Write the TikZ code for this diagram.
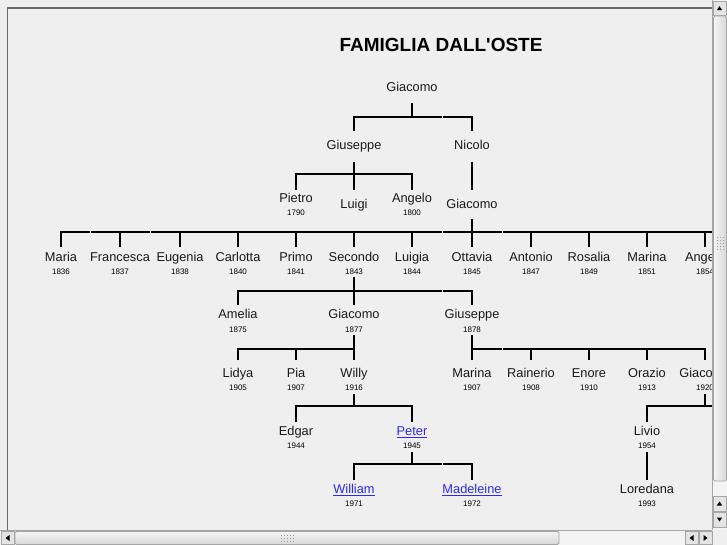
\documentclass[tikz,border=0pt]{standalone}
\usepackage{fontspec}
\setmainfont{Liberation Sans}
\newfontfamily\titlefont{Liberation Sans}[Ligatures=TeXOff]
\definecolor{bg}{HTML}{EFEFEF}
\definecolor{linkblue}{HTML}{2B2BE8}
\definecolor{framec}{HTML}{6A6A6A}
\definecolor{sbface}{HTML}{D8D8D8}
\definecolor{sbedge}{HTML}{A6A6A6}
\definecolor{sbtrack}{HTML}{F4F4F4}
\definecolor{sbbtn}{HTML}{E4E4E4}
\begin{document}
\begin{tikzpicture}[x=1pt,y=-1pt,
  nm/.style={font=\fontsize{12.8}{14}\selectfont, anchor=base, inner sep=0pt, text=black!90},
  yr/.style={font=\fontsize{8}{9}\selectfont, anchor=base, inner sep=0pt},
  lk/.style={nm, text=linkblue},
  ln/.style={line width=2pt, black, line join=miter},
  gapline/.style={draw=white!70!bg, line width=0.9pt},
  sbbox/.style={draw=sbedge, fill=sbbtn, line width=0.8pt},
  sbthumb/.style={draw=sbedge, line width=0.8pt, rounded corners=1.5pt},
  grip/.style={fill=black!40}]
\useasboundingbox[fill=bg] (0,0) rectangle (727,545);

\begin{scope}
\clip (8,9) rectangle (712,530);
\node[font=\titlefont\bfseries\fontsize{19}{22}\selectfont, anchor=base, inner sep=0pt] (title) at (441,52) {FAMIGLIA DALL'OSTE};

% level 0-2
\node[nm] (giacomoA) at (412,91.5) {Giacomo};
\node[nm] (giuseppeA) at (354,149.5) {Giuseppe};
\node[nm] (nicolo) at (472,149.5) {Nicolo};
\node[nm] (pietro) at (296,202.5) {Pietro};
\node[yr] (pietro-y) at (296,215) {1790};
\node[nm] (luigi) at (354,208.5) {Luigi};
\node[nm] (angeloA) at (412,202.5) {Angelo};
\node[yr] (angeloA-y) at (412,215) {1800};
\node[nm] (giacomoB) at (472,208.5) {Giacomo};

% level 3
\foreach \n/\x/\t/\yy in {maria/61/Maria/1836, francesca/120/Francesca/1837,
  eugenia/180/Eugenia/1838, carlotta/238/Carlotta/1840, primo/296/Primo/1841,
  secondo/354/Secondo/1843, luigia/412/Luigia/1844, ottavia/472/Ottavia/1845,
  antonio/531/Antonio/1847, rosalia/589/Rosalia/1849, marinaA/647/Marina/1851,
  angeloB/705/Angelo/1854}
 {\node[nm] (\n) at (\x,261.5) {\t};
  \node[yr] (\n-y) at (\x,274) {\yy};}

% level 4
\foreach \n/\x/\t/\yy in {amelia/238/Amelia/1875, giacomoC/354/Giacomo/1877,
  giuseppeB/472/Giuseppe/1878}
 {\node[nm] (\n) at (\x,318.5) {\t};
  \node[yr] (\n-y) at (\x,332) {\yy};}

% level 5
\foreach \n/\x/\t/\yy in {lidya/238/Lidya/1905, pia/296/Pia/1907, willy/354/Willy/1916,
  marinaB/472/Marina/1907, rainerio/531/Rainerio/1908, enore/589/Enore/1910,
  orazio/647/Orazio/1913, giacomoD/705/Giacomo/1920}
 {\node[nm] (\n) at (\x,377.5) {\t};
  \node[yr] (\n-y) at (\x,390) {\yy};}

% level 6
\node[nm] (edgar) at (296,435.5) {Edgar};
\node[yr] (edgar-y) at (296,448) {1944};
\node[lk] (peter) at (412,435.5) {\underline{Peter}};
\node[yr] (peter-y) at (412,448) {1945};
\node[nm] (livio) at (647,435.5) {Livio};
\node[yr] (livio-y) at (647,448) {1954};

% level 7
\node[lk] (william) at (354,493.5) {\underline{William}};
\node[yr] (william-y) at (354,506) {1971};
\node[lk] (madeleine) at (472,493.5) {\underline{Madeleine}};
\node[yr] (madeleine-y) at (472,506) {1972};
\node[nm] (loredana) at (647,493.5) {Loredana};
\node[yr] (loredana-y) at (647,506) {1993};

\coordinate (offR3) at (730,232);
\coordinate (offR6) at (730,406);

% connectors
\draw[ln] (giacomoA |- 0,103) -- (giacomoA |- 0,117);
\draw[ln] (giuseppeA |- 0,131) -- (giuseppeA |- 0,117) -- (nicolo |- 0,117) -- (nicolo |- 0,131);

\draw[ln] (giuseppeA |- 0,162) -- (luigi |- 0,190);
\draw[ln] (pietro |- 0,190) -- (pietro |- 0,174) -- (angeloA |- 0,174) -- (angeloA |- 0,190);
\draw[ln] (nicolo |- 0,162) -- (giacomoB |- 0,190);

\draw[ln] (giacomoB |- 0,219) -- (ottavia |- 0,247);
\draw[ln] (maria |- 0,247) -- (maria |- 0,232) -- (offR3);
\foreach \c in {francesca,eugenia,carlotta,primo,secondo,luigia,antonio,rosalia,marinaA,angeloB}
  \draw[ln] (\c |- 0,232) -- (\c |- 0,247);

\draw[ln] (secondo |- 0,277) -- (giacomoC |- 0,305);
\draw[ln] (amelia |- 0,305) -- (amelia |- 0,291) -- (giuseppeB |- 0,291) -- (giuseppeB |- 0,305);

\draw[ln] (giacomoC |- 0,335) -- (willy |- 0,360);
\draw[ln] (lidya |- 0,360) -- (lidya |- 0,349) -- (willy |- 0,349);
\draw[ln] (pia |- 0,349) -- (pia |- 0,360);

\draw[ln] (giuseppeB |- 0,335) -- (marinaB |- 0,360);
\draw[ln] (marinaB |- 0,349) -- (giacomoD |- 0,349) -- (giacomoD |- 0,360);
\foreach \c in {rainerio,enore,orazio}
  \draw[ln] (\c |- 0,349) -- (\c |- 0,360);

\draw[ln] (willy |- 0,394) -- (willy |- 0,406);
\draw[ln] (edgar |- 0,422) -- (edgar |- 0,406) -- (peter |- 0,406) -- (peter |- 0,422);

\draw[ln] (giacomoD |- 0,394) -- (giacomoD |- 0,406);
\draw[ln] (livio |- 0,422) -- (livio |- 0,406) -- (offR6);

\draw[ln] (peter |- 0,452) -- (peter |- 0,464);
\draw[ln] (william |- 0,480) -- (william |- 0,464) -- (madeleine |- 0,464) -- (madeleine |- 0,480);
\draw[ln] (livio |- 0,452) -- (loredana |- 0,480);

% small cell-boundary gaps in the horizontal lines
\foreach \gx/\gy in {442/117, 90/232, 150/232, 442/232, 502/232, 442/291, 502/349, 442/464}
  \draw[gapline] (\gx,\gy-1.2) -- (\gx,\gy+1.2);
\end{scope}

% window frame
\draw[framec, line width=1.2pt] (7.6,530) -- (7.6,8) -- (712,8);

% vertical scrollbar
\fill[sbtrack] (712,0) rectangle (727,530);
\draw[sbedge, line width=0.6pt] (712.3,0) -- (712.3,530);
\draw[sbbox] (713.5,1) rectangle (726.5,15);
\fill (716.8,10.2) -- (722.2,10.2) -- (719.5,6.2) -- cycle;
\draw[sbthumb, left color=white!92!gray, right color=sbface] (713.5,16) rectangle (726.5,481);
\foreach \gx in {716.5,719.5,722.5}
  \foreach \gy in {237,240,243,246,249}
    \fill[grip] (\gx,\gy) rectangle +(0.9,0.9);
\draw[sbbox] (713.5,496) rectangle (726.5,511);
\fill (716.8,505.5) -- (722.2,505.5) -- (719.5,501.5) -- cycle;
\draw[sbbox] (713.5,512) rectangle (726.5,527);
\fill (716.8,517.5) -- (722.2,517.5) -- (719.5,521.5) -- cycle;

% horizontal scrollbar
\fill[sbtrack] (0,530) rectangle (712,545);
\draw[sbedge, line width=0.6pt] (0,530.3) -- (712,530.3);
\draw[sbbox] (1,531.5) rectangle (14,544.5);
\fill (9.5,535) -- (9.5,541) -- (5.5,538) -- cycle;
\draw[sbthumb, top color=white!92!gray, bottom color=sbface] (15,531.5) rectangle (559,544.5);
\foreach \gx in {281,284,287,290,293}
  \foreach \gy in {534.5,537.5,540.5}
    \fill[grip] (\gx,\gy) rectangle +(0.9,0.9);
\draw[sbbox] (685,531.5) rectangle (698,544.5);
\fill (693.5,535) -- (693.5,541) -- (689.5,538) -- cycle;
\draw[sbbox] (699,531.5) rectangle (712,544.5);
\fill (703.5,535) -- (703.5,541) -- (707.5,538) -- cycle;
\fill[bg] (712.8,530.8) rectangle (727,545);
\end{tikzpicture}
\end{document}
